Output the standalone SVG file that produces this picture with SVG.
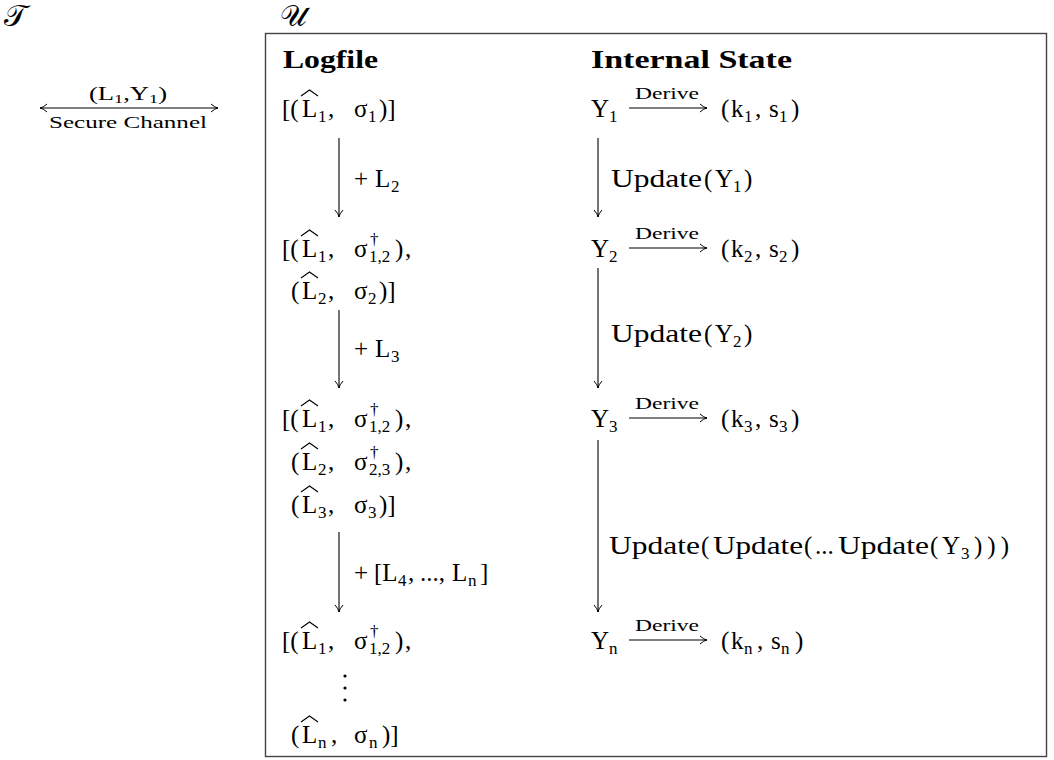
<svg xmlns="http://www.w3.org/2000/svg" width="1054" height="760" viewBox="0 0 1054 760">
<style>
text{font-family:"Liberation Serif","DejaVu Serif",serif;fill:#000}
.m{font-size:25px}
.s{font-size:17px}
.b{font-size:26px;font-weight:bold}
.lbl{font-size:16px}
.cal{font-size:30px;font-family:"DejaVu Serif","DejaVu Sans","Liberation Serif",serif}
.hat{fill:none;stroke:#000;stroke-width:1.1}
.ar{fill:none;stroke:#000;stroke-width:1.1}
</style>
<defs>
<marker id="ah" viewBox="0 0 10 10" refX="10" refY="5" markerWidth="10" markerHeight="10" markerUnits="userSpaceOnUse" orient="auto-start-reverse">
<path d="M3,1 Q7,4.6 10,5 Q7,5.4 3,9" fill="none" stroke="#000" stroke-width="1"/>
</marker>
</defs>

<g id="labels">
<text class="cal" x="4" y="26">𝒯</text>
<text class="cal" x="280" y="26">𝒰</text>
</g>

<g id="frame">
<rect x="265.5" y="33.5" width="781" height="723" fill="none" stroke="#444" stroke-width="1.4"/>
</g>

<g id="channel">
<text x="89" y="100" font-size="19" textLength="78" lengthAdjust="spacingAndGlyphs"><tspan>(L</tspan><tspan font-size="13" dy="3">1</tspan><tspan dy="-3">,Y</tspan><tspan font-size="13" dy="3">1</tspan><tspan dy="-3">)</tspan></text>
<text x="49" y="128" font-size="17" textLength="158" lengthAdjust="spacingAndGlyphs">Secure Channel</text>
</g>

<g id="headers">
<text class="b" x="283" y="68" textLength="95" lengthAdjust="spacingAndGlyphs">Logfile</text>
<text class="b" x="591" y="68" textLength="201" lengthAdjust="spacingAndGlyphs">Internal State</text>
</g>

<g id="log1">
<text class="m" y="117"><tspan x="282">[(</tspan><tspan x="302">L</tspan><tspan class="s" x="318" dy="5">1</tspan><tspan x="328" dy="-5">,</tspan><tspan x="354">σ</tspan><tspan class="s" x="368" dy="5">1</tspan><tspan x="379" dy="-5">)]</tspan></text>
<path class="hat" d="M301,96 L309.5,90 L318,96"/>
</g>

<g id="log2">
<text class="m" y="257"><tspan x="282">[(</tspan><tspan x="302">L</tspan><tspan class="s" x="318" dy="5">1</tspan><tspan x="328" dy="-5">,</tspan><tspan x="354">σ</tspan><tspan class="s" x="370" dy="-12">†</tspan><tspan class="s" x="369" dy="17">1,2</tspan><tspan x="395" dy="-5">)</tspan><tspan x="405">,</tspan></text>
<path class="hat" d="M301,236 L309.5,230 L318,236"/>
<text class="m" y="299"><tspan x="291">(</tspan><tspan x="302">L</tspan><tspan class="s" x="318" dy="5">2</tspan><tspan x="328" dy="-5">,</tspan><tspan x="354">σ</tspan><tspan class="s" x="368" dy="5">2</tspan><tspan x="379" dy="-5">)]</tspan></text>
<path class="hat" d="M301,278 L309.5,272 L318,278"/>
</g>

<g id="log3">
<text class="m" y="427"><tspan x="282">[(</tspan><tspan x="302">L</tspan><tspan class="s" x="318" dy="5">1</tspan><tspan x="328" dy="-5">,</tspan><tspan x="354">σ</tspan><tspan class="s" x="370" dy="-12">†</tspan><tspan class="s" x="369" dy="17">1,2</tspan><tspan x="395" dy="-5">)</tspan><tspan x="405">,</tspan></text>
<path class="hat" d="M301,406 L309.5,400 L318,406"/>
<text class="m" y="470"><tspan x="291">(</tspan><tspan x="302">L</tspan><tspan class="s" x="318" dy="5">2</tspan><tspan x="328" dy="-5">,</tspan><tspan x="354">σ</tspan><tspan class="s" x="370" dy="-12">†</tspan><tspan class="s" x="369" dy="17">2,3</tspan><tspan x="395" dy="-5">)</tspan><tspan x="405">,</tspan></text>
<path class="hat" d="M301,449 L309.5,443 L318,449"/>
<text class="m" y="513"><tspan x="291">(</tspan><tspan x="302">L</tspan><tspan class="s" x="318" dy="5">3</tspan><tspan x="328" dy="-5">,</tspan><tspan x="354">σ</tspan><tspan class="s" x="368" dy="5">3</tspan><tspan x="379" dy="-5">)]</tspan></text>
<path class="hat" d="M301,492 L309.5,486 L318,492"/>
</g>

<g id="log4">
<text class="m" y="649"><tspan x="282">[(</tspan><tspan x="302">L</tspan><tspan class="s" x="318" dy="5">1</tspan><tspan x="328" dy="-5">,</tspan><tspan x="354">σ</tspan><tspan class="s" x="370" dy="-12">†</tspan><tspan class="s" x="369" dy="17">1,2</tspan><tspan x="395" dy="-5">)</tspan><tspan x="405">,</tspan></text>
<path class="hat" d="M301,628 L309.5,622 L318,628"/>
<circle cx="345" cy="676" r="1.6"/>
<circle cx="345" cy="688" r="1.6"/>
<circle cx="345" cy="700" r="1.6"/>
<text class="m" y="743"><tspan x="291">(</tspan><tspan x="302">L</tspan><tspan class="s" x="318" dy="5">n</tspan><tspan x="331" dy="-5">,</tspan><tspan x="354">σ</tspan><tspan class="s" x="369" dy="5">n</tspan><tspan x="382" dy="-5">)]</tspan></text>
<path class="hat" d="M301,722 L309.5,716 L318,722"/>
</g>

<g id="state1">
<text class="m" y="117"><tspan x="591">Y</tspan><tspan class="s" x="609" dy="5">1</tspan><tspan x="721" dy="-5">(</tspan><tspan x="731">k</tspan><tspan class="s" x="744" dy="5">1</tspan><tspan x="755" dy="-5">,</tspan><tspan x="769">s</tspan><tspan class="s" x="779" dy="5">1</tspan><tspan x="791" dy="-5">)</tspan></text>
<text class="lbl" x="635" y="99" textLength="64" lengthAdjust="spacingAndGlyphs">Derive</text>
</g>
<g id="state2">
<text class="m" y="257"><tspan x="591">Y</tspan><tspan class="s" x="609" dy="5">2</tspan><tspan x="721" dy="-5">(</tspan><tspan x="731">k</tspan><tspan class="s" x="744" dy="5">2</tspan><tspan x="755" dy="-5">,</tspan><tspan x="769">s</tspan><tspan class="s" x="779" dy="5">2</tspan><tspan x="791" dy="-5">)</tspan></text>
<text class="lbl" x="635" y="239" textLength="64" lengthAdjust="spacingAndGlyphs">Derive</text>
</g>
<g id="state3">
<text class="m" y="427"><tspan x="591">Y</tspan><tspan class="s" x="609" dy="5">3</tspan><tspan x="721" dy="-5">(</tspan><tspan x="731">k</tspan><tspan class="s" x="744" dy="5">3</tspan><tspan x="755" dy="-5">,</tspan><tspan x="769">s</tspan><tspan class="s" x="779" dy="5">3</tspan><tspan x="791" dy="-5">)</tspan></text>
<text class="lbl" x="635" y="409" textLength="64" lengthAdjust="spacingAndGlyphs">Derive</text>
</g>
<g id="state4">
<text class="m" y="649"><tspan x="591">Y</tspan><tspan class="s" x="609" dy="5">n</tspan><tspan x="721" dy="-5">(</tspan><tspan x="731">k</tspan><tspan class="s" x="744" dy="5">n</tspan><tspan x="757" dy="-5">,</tspan><tspan x="771">s</tspan><tspan class="s" x="781" dy="5">n</tspan><tspan x="795" dy="-5">)</tspan></text>
<text class="lbl" x="635" y="631" textLength="64" lengthAdjust="spacingAndGlyphs">Derive</text>
</g>

<g id="connectors">
<line class="ar" x1="40" y1="108" x2="218" y2="108" marker-start="url(#ah)" marker-end="url(#ah)"/>
<line class="ar" x1="629" y1="108" x2="707" y2="108" marker-end="url(#ah)"/>
<line class="ar" x1="629" y1="248" x2="707" y2="248" marker-end="url(#ah)"/>
<line class="ar" x1="629" y1="418" x2="707" y2="418" marker-end="url(#ah)"/>
<line class="ar" x1="629" y1="640" x2="707" y2="640" marker-end="url(#ah)"/>
<line class="ar" x1="339" y1="138" x2="339" y2="217" marker-end="url(#ah)"/>
<line class="ar" x1="339" y1="310" x2="339" y2="388" marker-end="url(#ah)"/>
<line class="ar" x1="339" y1="532" x2="339" y2="612" marker-end="url(#ah)"/>
<line class="ar" x1="598" y1="138" x2="598" y2="217" marker-end="url(#ah)"/>
<line class="ar" x1="598" y1="268" x2="598" y2="388" marker-end="url(#ah)"/>
<line class="ar" x1="598" y1="440" x2="598" y2="612" marker-end="url(#ah)"/>
</g>

<g id="connector-labels">
<text class="m" y="187"><tspan x="354">+</tspan><tspan x="375">L</tspan><tspan class="s" x="391" dy="5">2</tspan></text>
<text class="m" y="357"><tspan x="354">+</tspan><tspan x="375">L</tspan><tspan class="s" x="391" dy="5">3</tspan></text>
<text class="m" y="581"><tspan x="354">+</tspan><tspan x="374">[L</tspan><tspan class="s" x="398" dy="5">4</tspan><tspan x="408" dy="-5">,</tspan><tspan x="420">...,</tspan><tspan x="452">L</tspan><tspan class="s" x="468" dy="5">n</tspan><tspan x="480" dy="-5">]</tspan></text>
<text class="m" y="187"><tspan x="611" textLength="91" lengthAdjust="spacingAndGlyphs">Update</tspan><tspan x="704">(</tspan><tspan x="715">Y</tspan><tspan class="s" x="733" dy="5">1</tspan><tspan x="744" dy="-5">)</tspan></text>
<text class="m" y="342"><tspan x="611" textLength="91" lengthAdjust="spacingAndGlyphs">Update</tspan><tspan x="704">(</tspan><tspan x="715">Y</tspan><tspan class="s" x="733" dy="5">2</tspan><tspan x="744" dy="-5">)</tspan></text>
<text class="m" y="554"><tspan x="609" textLength="91" lengthAdjust="spacingAndGlyphs">Update</tspan><tspan x="701">(</tspan><tspan x="713" textLength="90" lengthAdjust="spacingAndGlyphs">Update</tspan><tspan x="804">(</tspan><tspan x="815">...</tspan><tspan x="838" textLength="91" lengthAdjust="spacingAndGlyphs">Update</tspan><tspan x="930">(</tspan><tspan x="942">Y</tspan><tspan class="s" x="961" dy="5">3</tspan><tspan x="974" dy="-5" letter-spacing="5">)))</tspan></text>
</g>
</svg>
